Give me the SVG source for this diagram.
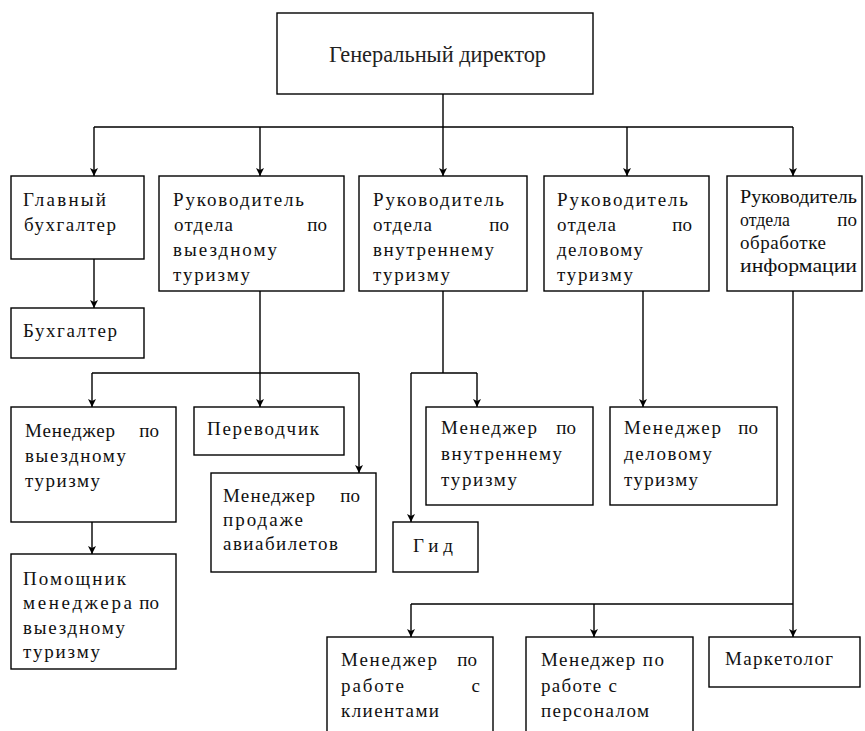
<svg xmlns="http://www.w3.org/2000/svg" width="865" height="731" viewBox="0 0 865 731">
<style>
  .box { fill: #fff; stroke: #000; stroke-width: 1.4; }
  .t { font-family: "Liberation Serif", "Times New Roman", serif; font-size: 19px; fill: #111; }
  .ttl { font-family: "Liberation Serif", "Times New Roman", serif; font-size: 23px; fill: #222; }
  .ln { fill: none; stroke: #000; stroke-width: 1.4; }
</style>
<defs>
  <marker id="arr" viewBox="0 0 10 10" refX="10" refY="5" markerWidth="10" markerHeight="8" markerUnits="userSpaceOnUse" orient="auto">
    <path d="M0,0 L10,5 L0,10 L2.5,5 z" fill="#000"/>
  </marker>
</defs>
<rect width="865" height="731" fill="#fff"/>

<g id="connectors">
  <path class="ln" d="M443,94 V127 M94,127 H793"/>
  <path class="ln" d="M94,127 V176" marker-end="url(#arr)"/>
  <path class="ln" d="M260,127 V176" marker-end="url(#arr)"/>
  <path class="ln" d="M443,127 V176" marker-end="url(#arr)"/>
  <path class="ln" d="M627,127 V176" marker-end="url(#arr)"/>
  <path class="ln" d="M793,127 V176" marker-end="url(#arr)"/>
  <path class="ln" d="M94,259 V308" marker-end="url(#arr)"/>
  <path class="ln" d="M260,291 V373 M92,373 H359"/>
  <path class="ln" d="M92,373 V407" marker-end="url(#arr)"/>
  <path class="ln" d="M260,373 V407" marker-end="url(#arr)"/>
  <path class="ln" d="M359,373 V473" marker-end="url(#arr)"/>
  <path class="ln" d="M92,522 V554" marker-end="url(#arr)"/>
  <path class="ln" d="M443,291 V373 M411,373 H477"/>
  <path class="ln" d="M477,373 V407" marker-end="url(#arr)"/>
  <path class="ln" d="M411,373 V522" marker-end="url(#arr)"/>
  <path class="ln" d="M643,291 V407" marker-end="url(#arr)"/>
  <path class="ln" d="M793,291 V637" marker-end="url(#arr)"/>
  <path class="ln" d="M411,604 H793"/>
  <path class="ln" d="M411,604 V637" marker-end="url(#arr)"/>
  <path class="ln" d="M594,604 V637" marker-end="url(#arr)"/>
</g>

<g id="gen-director">
  <rect class="box" x="277" y="13" width="316" height="81"/>
  <text class="ttl" x="329" y="62" textLength="217" lengthAdjust="spacingAndGlyphs">Генеральный директор</text>
</g>

<g id="chief-accountant">
  <rect class="box" x="11" y="176" width="133" height="83"/>
  <text class="t" x="23" y="206" textLength="83" lengthAdjust="spacing">Главный</text>
  <text class="t" x="24" y="231" textLength="92" lengthAdjust="spacing">бухгалтер</text>
</g>

<g id="head-outbound">
  <rect class="box" x="159" y="176" width="185" height="115"/>
  <text class="t" x="173" y="206" textLength="131" lengthAdjust="spacing">Руководитель</text>
  <text class="t" x="174" y="231" textLength="59" lengthAdjust="spacing">отдела</text>
  <text class="t" x="327" y="231" text-anchor="end">по</text>
  <text class="t" x="173" y="256" textLength="104" lengthAdjust="spacing">выездному</text>
  <text class="t" x="173" y="281" textLength="77" lengthAdjust="spacing">туризму</text>
</g>

<g id="head-domestic">
  <rect class="box" x="359" y="176" width="168" height="115"/>
  <text class="t" x="373" y="206" textLength="131" lengthAdjust="spacing">Руководитель</text>
  <text class="t" x="373" y="231" textLength="59" lengthAdjust="spacing">отдела</text>
  <text class="t" x="509" y="231" text-anchor="end">по</text>
  <text class="t" x="373" y="256" textLength="121" lengthAdjust="spacing">внутреннему</text>
  <text class="t" x="373" y="281" textLength="77" lengthAdjust="spacing">туризму</text>
</g>

<g id="head-business">
  <rect class="box" x="544" y="176" width="165" height="115"/>
  <text class="t" x="557" y="206" textLength="131" lengthAdjust="spacing">Руководитель</text>
  <text class="t" x="557" y="231" textLength="59" lengthAdjust="spacing">отдела</text>
  <text class="t" x="692" y="231" text-anchor="end">по</text>
  <text class="t" x="557" y="256" textLength="86" lengthAdjust="spacing">деловому</text>
  <text class="t" x="557" y="281" textLength="76" lengthAdjust="spacing">туризму</text>
</g>

<g id="head-info">
  <rect class="box" x="727" y="176" width="135" height="115"/>
  <text class="t" x="740" y="203" textLength="117" lengthAdjust="spacingAndGlyphs">Руководитель</text>
  <text class="t" x="740" y="226" textLength="50" lengthAdjust="spacingAndGlyphs">отдела</text>
  <text class="t" x="857" y="226" text-anchor="end">по</text>
  <text class="t" x="740" y="249" textLength="86" lengthAdjust="spacing">обработке</text>
  <text class="t" x="740" y="272" textLength="117" lengthAdjust="spacingAndGlyphs">информации</text>
</g>

<g id="accountant">
  <rect class="box" x="11" y="308" width="133" height="50"/>
  <text class="t" x="23" y="337" textLength="94" lengthAdjust="spacing">Бухгалтер</text>
</g>

<g id="mgr-outbound">
  <rect class="box" x="11" y="407" width="165" height="115"/>
  <text class="t" x="25" y="437" textLength="90" lengthAdjust="spacing">Менеджер</text>
  <text class="t" x="159" y="437" text-anchor="end">по</text>
  <text class="t" x="25" y="462" textLength="101" lengthAdjust="spacing">выездному</text>
  <text class="t" x="25" y="487" textLength="75" lengthAdjust="spacing">туризму</text>
</g>

<g id="translator">
  <rect class="box" x="194" y="407" width="150" height="48"/>
  <text class="t" x="207" y="435" textLength="112" lengthAdjust="spacing">Переводчик</text>
</g>

<g id="mgr-tickets">
  <rect class="box" x="211" y="473" width="165" height="99"/>
  <text class="t" x="223" y="502" textLength="92" lengthAdjust="spacing">Менеджер</text>
  <text class="t" x="360" y="502" text-anchor="end">по</text>
  <text class="t" x="223" y="526" textLength="80" lengthAdjust="spacing">продаже</text>
  <text class="t" x="223" y="550" textLength="115" lengthAdjust="spacing">авиабилетов</text>
</g>

<g id="mgr-domestic">
  <rect class="box" x="426" y="407" width="167" height="98"/>
  <text class="t" x="441" y="434" textLength="96" lengthAdjust="spacing">Менеджер</text>
  <text class="t" x="576" y="434" text-anchor="end">по</text>
  <text class="t" x="441" y="460" textLength="121" lengthAdjust="spacing">внутреннему</text>
  <text class="t" x="441" y="486" textLength="76" lengthAdjust="spacing">туризму</text>
</g>

<g id="guide">
  <rect class="box" x="393" y="522" width="85" height="50"/>
  <text class="t" x="413" y="552" textLength="40" lengthAdjust="spacing">Гид</text>
</g>

<g id="mgr-business">
  <rect class="box" x="610" y="407" width="167" height="98"/>
  <text class="t" x="624" y="434" textLength="97" lengthAdjust="spacing">Менеджер</text>
  <text class="t" x="758" y="434" text-anchor="end">по</text>
  <text class="t" x="624" y="460" textLength="88" lengthAdjust="spacing">деловому</text>
  <text class="t" x="624" y="486" textLength="74" lengthAdjust="spacing">туризму</text>
</g>

<g id="assistant">
  <rect class="box" x="11" y="554" width="165" height="115"/>
  <text class="t" x="23" y="585" textLength="103" lengthAdjust="spacing">Помощник</text>
  <text class="t" x="23" y="609" textLength="109" lengthAdjust="spacing">менеджера</text>
  <text class="t" x="159" y="609" text-anchor="end">по</text>
  <text class="t" x="23" y="634" textLength="102" lengthAdjust="spacing">выездному</text>
  <text class="t" x="23" y="658" textLength="77" lengthAdjust="spacing">туризму</text>
</g>

<g id="mgr-clients">
  <rect class="box" x="327" y="637" width="166" height="110"/>
  <text class="t" x="341" y="666" textLength="96" lengthAdjust="spacing">Менеджер</text>
  <text class="t" x="477" y="666" text-anchor="end">по</text>
  <text class="t" x="341" y="692" textLength="63" lengthAdjust="spacing">работе</text>
  <text class="t" x="480" y="692" text-anchor="end">с</text>
  <text class="t" x="341" y="717" textLength="98" lengthAdjust="spacing">клиентами</text>
</g>

<g id="mgr-staff">
  <rect class="box" x="526" y="637" width="167" height="110"/>
  <text class="t" x="541" y="666" textLength="123" lengthAdjust="spacing">Менеджер по</text>
  <text class="t" x="541" y="692" textLength="76" lengthAdjust="spacing">работе с</text>
  <text class="t" x="541" y="717" textLength="108" lengthAdjust="spacing">персоналом</text>
</g>

<g id="marketer">
  <rect class="box" x="709" y="637" width="151" height="50"/>
  <text class="t" x="725" y="665" textLength="108" lengthAdjust="spacing">Маркетолог</text>
</g>
</svg>
